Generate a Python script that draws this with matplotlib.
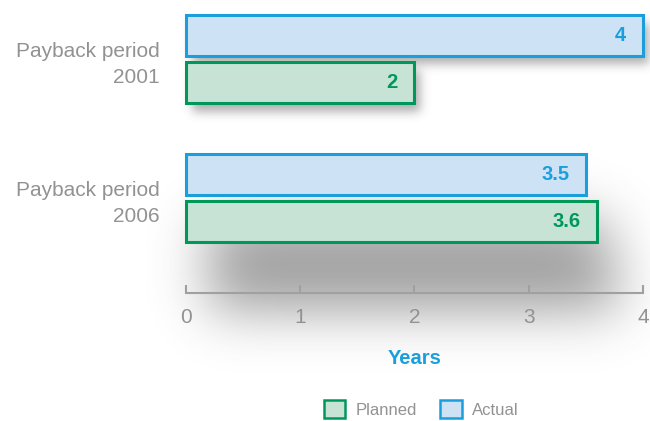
import numpy as np
import matplotlib.pyplot as plt
from matplotlib.patches import Patch

# data
categories = ['Payback period\n2001', 'Payback period\n2006']
planned = [2, 3.6]
actual = [4, 3.5]
xticks = [0, 1, 2, 3, 4]

blue_edge = '#1a9fdc'
blue_fill = '#cde2f5'
green_edge = '#00985a'
green_fill = '#c6e3d6'
grey = '#929292'

plt.rcParams['font.family'] = ['Liberation Sans', 'DejaVu Sans']

fig = plt.figure(figsize=(6.5, 4.21), dpi=100)
ax = fig.add_axes([186 / 650, 1 - 293 / 421, 457 / 650, 293 / 421])

y = np.arange(len(categories))
h = 0.295
off = 0.17


def blur(a, sx, sy):
    """separable gaussian blur, sigma in grid cells"""
    def kern(s):
        n = int(3 * s) + 1
        t = np.arange(-n, n + 1)
        k = np.exp(-0.5 * (t / s) ** 2)
        return k / k.sum()
    kx, ky = kern(sx), kern(sy)
    a = np.apply_along_axis(lambda r: np.convolve(r, kx, mode='same'), 1, a)
    a = np.apply_along_axis(lambda c: np.convolve(c, ky, mode='same'), 0, a)
    return a


# soft drop shadows behind each group
x0, x1, y0, y1 = -0.4, 4.6, -0.45, 2.5
nx, ny = 500, 420
xs = np.linspace(x0, x1, nx)
ys = np.linspace(y0, y1, ny)
X, Y = np.meshgrid(xs, ys)
cx = (x1 - x0) / nx * 114.25   # px per cell
cy = (y1 - y0) / ny * 139
shade = np.zeros_like(X)
# (offset x px, offset y px, sigma px, strength)
shadow_style = [(6, 8, 5, 0.45), (22, 66, 27, 0.6)]
for i, (ox, oy, s, a) in enumerate(shadow_style):
    m = np.zeros_like(X)
    for v, yc in [(actual[i], y[i] - off), (planned[i], y[i] + off)]:
        inside = ((X >= ox / 114.25) & (X <= v + ox / 114.25) &
                  (Y >= yc - h / 2 + oy / 139) & (Y <= yc + h / 2 + oy / 139))
        m = np.maximum(m, inside.astype(float))
    shade += a * blur(m, s / cx, s / cy)
shade = np.clip(shade, 0, 1)
img = np.zeros((ny, nx, 4))
img[..., :3] = 0.3
img[..., 3] = shade
ax.imshow(img, extent=(x0, x1, y1, y0), origin='upper', aspect='auto',
          zorder=0, clip_on=False, interpolation='bilinear')

ax.barh(y - off, actual, height=h, color=blue_fill, edgecolor=blue_edge,
        linewidth=2.2, zorder=2, clip_on=False)
ax.barh(y + off, planned, height=h, color=green_fill, edgecolor=green_edge,
        linewidth=2.2, zorder=2, clip_on=False)

for i in range(len(categories)):
    ax.annotate(f'{actual[i]:g}', (actual[i], y[i] - off), xytext=(-12, 0),
                textcoords='offset points', ha='right', va='center',
                color=blue_edge, fontsize=14.5, fontweight='bold', zorder=3)
    ax.annotate(f'{planned[i]:g}', (planned[i], y[i] + off), xytext=(-12, 0),
                textcoords='offset points', ha='right', va='center',
                color=green_edge, fontsize=14.5, fontweight='bold', zorder=3)

ax.set_xlim(0, 4)
ax.set_ylim(1.683, -0.424)
ax.set_xticks(xticks)
ax.set_yticks(y)
ax.set_yticklabels(categories)
ax.tick_params(axis='y', length=0, pad=19, labelsize=15, labelcolor=grey)
ax.tick_params(axis='x', direction='in', length=6, width=1.5, color='#a0a0a0',
               pad=11, labelsize=15, labelcolor=grey)
for lab in ax.get_yticklabels():
    lab.set_linespacing(1.45)

for side in ['top', 'right', 'left']:
    ax.spines[side].set_visible(False)
ax.spines['bottom'].set_color('#a0a0a0')
ax.spines['bottom'].set_linewidth(1.5)
ax.patch.set_alpha(0)

ax.set_xlabel('Years', color=blue_edge, fontsize=14.5, fontweight='bold', labelpad=16)

handles = [Patch(facecolor=green_fill, edgecolor=green_edge, linewidth=1.8, label='Planned'),
           Patch(facecolor=blue_fill, edgecolor=blue_edge, linewidth=1.8, label='Actual')]
leg = fig.legend(handles=handles, loc='center', bbox_to_anchor=(421 / 650, 1 - 409 / 421),
                 ncol=2, frameon=False, fontsize=12, handlelength=1.3, handleheight=1.3,
                 handletextpad=0.6, columnspacing=1.4)
for t in leg.get_texts():
    t.set_color(grey)

fig.savefig('out.png', dpi=100)
